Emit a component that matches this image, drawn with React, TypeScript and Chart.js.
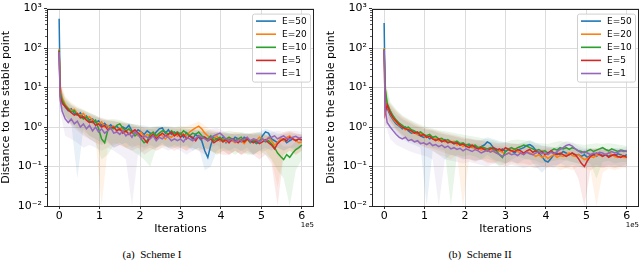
import React, { useEffect, useRef } from 'react';
import { Chart, registerables } from 'chart.js';

Chart.register(...registerables);

// ---------- shared axes data ----------
const ITERS = [
  0, 2500, 7500, 15000, 22500, 30000, 37500, 45000, 52500, 60000,
  67500, 75000, 82500, 90000, 97500, 105000, 112500, 120000, 127500, 135000,
  142500, 150000, 157500, 165000, 172500, 180000, 187500, 195000, 202500, 210000,
  217500, 225000, 232500, 240000, 247500, 255000, 262500, 270000, 277500, 285000,
  292500, 300000, 307500, 315000, 322500, 330000, 337500, 345000, 352500, 360000,
  367500, 375000, 382500, 390000, 397500, 405000, 412500, 420000, 427500, 435000,
  442500, 450000, 457500, 465000, 472500, 480000, 487500, 495000, 502500, 510000,
  517500, 525000, 532500, 540000, 547500, 555000, 562500, 570000, 577500, 585000,
  592500, 600000,
];
const BAND_ITERS = [
  0, 2500, 15000, 30000, 45000, 60000, 75000, 90000, 105000, 120000,
  135000, 150000, 165000, 180000, 195000, 210000, 225000, 240000, 255000, 270000,
  285000, 300000, 315000, 330000, 345000, 360000, 375000, 390000, 405000, 420000,
  435000, 450000, 465000, 480000, 495000, 510000, 525000, 540000, 555000, 570000,
  585000, 600000,
];
const X_TICKS = [0, 100000, 200000, 300000, 400000, 500000, 600000];
const Y_TICKS = [0.01, 0.1, 1, 10, 100, 1000];
const SERIES_LABELS = ['E=50', 'E=20', 'E=10', 'E=5', 'E=1'];
const SERIES_COLORS = ['#1f77b4', '#ff7f0e', '#2ca02c', '#d62728', '#9467bd'];
const SERIES_FILLS = [
  'rgba(31,119,180,0.10)', 'rgba(255,127,14,0.10)', 'rgba(44,160,44,0.10)',
  'rgba(214,39,40,0.10)', 'rgba(148,103,189,0.10)',
];

// ---------- Scheme I ----------
const S1_E50 = [
  550, 9, 4.5, 3.2, 2.6, 2.9, 2.2, 2.0, 2.3, 1.7,
  1.9, 1.5, 1.6, 1.3, 1.45, 1.1, 1.25, 1.0, 1.15, 0.95,
  1.05, 0.85, 1.0, 0.9, 1.1, 0.8, 0.7, 0.85, 0.75, 0.65,
  0.8, 0.7, 0.6, 0.75, 0.9, 0.95, 0.7, 0.85, 0.65, 0.75,
  0.6, 0.7, 0.55, 0.72, 0.6, 0.5, 0.65, 0.55, 0.45, 0.25,
  0.17, 0.35, 0.55, 0.5, 0.45, 0.55, 0.4, 0.5, 0.45, 0.55,
  0.5, 0.42, 0.55, 0.5, 0.4, 0.45, 0.38, 0.42, 0.6, 0.75,
  0.7, 0.5, 0.45, 0.4, 0.48, 0.5, 0.4, 0.45, 0.5, 0.45,
  0.5, 0.48,
];
const S1_E20 = [
  95, 11, 5.5, 3.8, 3.0, 2.6, 2.8, 2.2, 2.0, 2.2,
  1.7, 1.8, 1.5, 1.4, 1.2, 1.35, 1.0, 1.1, 0.9, 1.05,
  0.8, 0.95, 0.85, 0.75, 0.9, 0.7, 0.8, 0.6, 0.75, 0.55,
  0.65, 0.6, 0.7, 0.55, 0.65, 0.6, 0.5, 0.6, 0.55, 0.65,
  0.6, 0.7, 0.65, 0.6, 0.75, 0.85, 0.95, 1.05, 0.9, 0.7,
  0.6, 0.55, 0.5, 0.6, 0.45, 0.5, 0.42, 0.55, 0.45, 0.4,
  0.5, 0.45, 0.38, 0.48, 0.42, 0.5, 0.45, 0.55, 0.5, 0.45,
  0.55, 0.45, 0.35, 0.4, 0.5, 0.45, 0.55, 0.6, 0.5, 0.45,
  0.4, 0.42,
];
const S1_E10 = [
  90, 8, 4.8, 3.5, 2.9, 2.4, 2.6, 2.0, 1.9, 1.6,
  1.8, 1.4, 1.3, 1.5, 0.9, 0.5, 0.4, 0.8, 1.0, 0.9,
  1.1, 1.2, 0.95, 0.8, 0.9, 0.75, 0.6, 0.7, 0.5, 0.4,
  0.45, 0.65, 0.75, 0.6, 0.7, 0.8, 0.75, 0.65, 0.8, 0.7,
  0.75, 0.65, 0.8, 0.7, 0.6, 0.7, 0.65, 0.75, 0.6, 0.55,
  0.5, 0.6, 0.45, 0.5, 0.55, 0.45, 0.5, 0.55, 0.5, 0.45,
  0.5, 0.55, 0.45, 0.5, 0.42, 0.48, 0.4, 0.45, 0.5, 0.42,
  0.45, 0.38, 0.3, 0.22, 0.18, 0.15, 0.2, 0.17, 0.22, 0.27,
  0.3, 0.35,
];
const S1_E5 = [
  85, 6, 4.0, 3.3, 2.7, 2.3, 2.0, 2.2, 1.7, 1.8,
  1.5, 1.3, 1.4, 1.1, 1.2, 1.0, 1.1, 0.85, 0.95, 1.0,
  0.8, 0.9, 0.7, 0.8, 0.65, 0.75, 0.85, 0.7, 0.6, 0.5,
  0.4, 0.55, 0.65, 0.5, 0.6, 0.7, 0.6, 0.65, 0.75, 0.6,
  0.7, 0.55, 0.65, 0.5, 0.6, 0.55, 0.45, 0.6, 0.5, 0.55,
  0.45, 0.5, 0.4, 0.45, 0.5, 0.42, 0.48, 0.4, 0.5, 0.45,
  0.4, 0.48, 0.42, 0.5, 0.45, 0.4, 0.45, 0.38, 0.42, 0.48,
  0.4, 0.35, 0.28, 0.38, 0.45, 0.5, 0.45, 0.55, 0.5, 0.45,
  0.5, 0.47,
];
const S1_E1 = [
  80, 5, 2.5, 1.6, 1.3, 1.6, 1.2, 1.4, 1.0, 1.2,
  0.9, 1.1, 0.8, 1.0, 0.75, 0.9, 0.7, 0.8, 0.95, 0.7,
  0.75, 0.65, 0.8, 0.6, 0.7, 0.55, 0.75, 0.65, 0.5, 0.6,
  0.55, 0.5, 0.6, 0.45, 0.55, 0.5, 0.6, 0.55, 0.45, 0.5,
  0.45, 0.5, 0.42, 0.55, 0.5, 0.45, 0.52, 0.6, 0.55, 0.5,
  0.45, 0.55, 0.6, 0.65, 0.7, 0.6, 0.5, 0.45, 0.5, 0.42,
  0.48, 0.45, 0.5, 0.55, 0.45, 0.5, 0.48, 0.42, 0.5, 0.45,
  0.52, 0.55, 0.6, 0.5, 0.55, 0.6, 0.52, 0.5, 0.55, 0.58,
  0.52, 0.55,
];
const S1_E50_LO = [300, 4, 1.8, 1.2, 0.05, 0.9, 0.6, 0.5, 0.4, 0.45, 0.3, 0.35, 0.4, 0.3, 0.35, 0.3, 0.35, 0.3, 0.4, 0.3, 0.35, 0.3, 0.35, 0.25, 0.3, 0.08, 0.1, 0.25, 0.3, 0.25, 0.3, 0.25, 0.3, 0.2, 0.25, 0.3, 0.25, 0.3, 0.25, 0.3, 0.25, 0.3];
const S1_E50_HI = [700, 12, 5.0, 3.6, 3.0, 2.6, 2.2, 1.9, 1.7, 1.5, 1.4, 1.3, 1.25, 1.2, 1.15, 1.1, 1.0, 1.05, 1.0, 0.95, 0.9, 0.88, 0.85, 0.85, 0.8, 0.75, 0.7, 0.75, 0.7, 0.7, 0.65, 0.7, 0.65, 0.7, 0.75, 0.9, 0.8, 0.7, 0.65, 0.7, 0.65, 0.65];
const S1_E20_LO = [50, 5, 2.0, 1.3, 1.0, 0.8, 0.6, 0.5, 0.01, 0.3, 0.4, 0.35, 0.3, 0.35, 0.3, 0.28, 0.3, 0.25, 0.3, 0.35, 0.3, 0.3, 0.25, 0.35, 0.5, 0.3, 0.25, 0.2, 0.25, 0.2, 0.25, 0.2, 0.25, 0.22, 0.2, 0.25, 0.15, 0.03, 0.2, 0.25, 0.2, 0.25];
const S1_E20_HI = [150, 16, 6.0, 4.2, 3.3, 2.8, 2.3, 2.0, 1.7, 1.6, 1.5, 1.4, 1.3, 1.2, 1.1, 1.0, 0.95, 1.0, 0.95, 0.9, 0.95, 1.0, 1.05, 1.2, 1.4, 1.1, 0.85, 0.8, 0.75, 0.7, 0.75, 0.7, 0.65, 0.75, 0.7, 0.65, 0.7, 0.65, 0.75, 0.8, 0.7, 0.65];
const S1_E10_LO = [45, 4, 1.9, 1.2, 0.9, 0.7, 0.5, 0.4, 0.15, 0.2, 0.35, 0.4, 0.3, 0.25, 0.2, 0.15, 0.1, 0.3, 0.35, 0.3, 0.3, 0.35, 0.3, 0.3, 0.25, 0.3, 0.25, 0.2, 0.25, 0.25, 0.2, 0.25, 0.2, 0.2, 0.25, 0.2, 0.15, 0.08, 0.05, 0.01, 0.08, 0.15];
const S1_E10_HI = [140, 12, 5.5, 3.9, 3.1, 2.7, 2.3, 2.0, 1.5, 1.5, 1.6, 1.5, 1.3, 1.2, 1.1, 0.95, 0.95, 1.0, 1.1, 1.05, 1.0, 1.05, 1.0, 1.0, 0.95, 0.9, 0.8, 0.75, 0.75, 0.8, 0.75, 0.75, 0.7, 0.7, 0.75, 0.65, 0.55, 0.45, 0.32, 0.32, 0.42, 0.5];
const S1_E5_LO = [40, 3, 1.6, 1.1, 0.8, 0.6, 0.5, 0.4, 0.35, 0.4, 0.3, 0.35, 0.3, 0.25, 0.3, 0.2, 0.25, 0.3, 0.35, 0.3, 0.25, 0.3, 0.25, 0.3, 0.25, 0.2, 0.25, 0.22, 0.2, 0.2, 0.25, 0.2, 0.22, 0.2, 0.15, 0.2, 0.12, 0.01, 0.2, 0.25, 0.2, 0.25];
const S1_E5_HI = [130, 10, 4.6, 3.4, 2.8, 2.4, 2.0, 1.8, 1.6, 1.4, 1.4, 1.3, 1.2, 1.1, 1.0, 0.95, 0.9, 0.95, 1.0, 1.0, 0.95, 0.95, 0.9, 0.85, 0.85, 0.8, 0.75, 0.7, 0.7, 0.65, 0.7, 0.65, 0.68, 0.65, 0.65, 0.6, 0.55, 0.55, 0.7, 0.75, 0.7, 0.65];
const S1_E1_LO = [40, 2.5, 0.6, 0.5, 0.4, 0.3, 0.35, 0.3, 0.25, 0.3, 0.25, 0.2, 0.15, 0.01, 0.2, 0.25, 0.3, 0.25, 0.3, 0.25, 0.3, 0.25, 0.2, 0.25, 0.3, 0.25, 0.3, 0.35, 0.25, 0.2, 0.25, 0.2, 0.25, 0.2, 0.25, 0.25, 0.3, 0.3, 0.25, 0.3, 0.3, 0.3];
const S1_E1_HI = [120, 8, 3.2, 2.6, 2.2, 1.9, 1.7, 1.5, 1.3, 1.2, 1.1, 1.05, 1.0, 0.95, 0.9, 0.85, 0.9, 0.85, 0.8, 0.8, 0.75, 0.75, 0.7, 0.7, 0.75, 0.75, 0.9, 0.95, 0.8, 0.7, 0.65, 0.7, 0.7, 0.65, 0.7, 0.65, 0.75, 0.8, 0.75, 0.8, 0.8, 0.75];

// ---------- Scheme II ----------
const S2_E50 = [
  430, 7, 3.0, 2.0, 1.5, 1.2, 1.05, 0.9, 1.0, 0.8,
  0.7, 0.75, 0.65, 0.6, 0.55, 0.6, 0.5, 0.55, 0.48, 0.5,
  0.45, 0.48, 0.4, 0.42, 0.38, 0.4, 0.35, 0.38, 0.32, 0.35,
  0.3, 0.33, 0.28, 0.32, 0.35, 0.42, 0.38, 0.3, 0.28, 0.25,
  0.28, 0.24, 0.27, 0.25, 0.22, 0.26, 0.28, 0.3, 0.34, 0.36,
  0.32, 0.26, 0.22, 0.18, 0.14, 0.13, 0.16, 0.2, 0.22, 0.2,
  0.24, 0.22, 0.2, 0.22, 0.19, 0.2, 0.18, 0.2, 0.17, 0.19,
  0.2, 0.18, 0.21, 0.19, 0.2, 0.18, 0.2, 0.19, 0.21, 0.2,
  0.18, 0.2,
];
const S2_E20 = [
  100, 9, 3.4, 2.2, 1.6, 1.3, 1.1, 1.0, 0.85, 0.9,
  0.75, 0.7, 0.65, 0.7, 0.6, 0.55, 0.6, 0.5, 0.52, 0.45,
  0.5, 0.42, 0.45, 0.4, 0.43, 0.35, 0.38, 0.32, 0.36, 0.3,
  0.32, 0.28, 0.3, 0.26, 0.28, 0.25, 0.27, 0.24, 0.22, 0.25,
  0.23, 0.2, 0.22, 0.25, 0.28, 0.24, 0.22, 0.2, 0.24, 0.22,
  0.2, 0.18, 0.2, 0.17, 0.19, 0.16, 0.18, 0.2, 0.17, 0.19,
  0.18, 0.2, 0.22, 0.19, 0.18, 0.2, 0.17, 0.15, 0.16, 0.18,
  0.17, 0.19, 0.2, 0.18, 0.2, 0.22, 0.2, 0.18, 0.17, 0.19,
  0.17, 0.17,
];
const S2_E10 = [
  95, 10, 4.0, 2.6, 1.9, 1.5, 1.25, 1.1, 0.95, 1.0,
  0.85, 0.8, 0.7, 0.75, 0.65, 0.6, 0.65, 0.55, 0.58, 0.5,
  0.52, 0.45, 0.48, 0.42, 0.4, 0.44, 0.38, 0.4, 0.35, 0.37,
  0.33, 0.35, 0.3, 0.32, 0.3, 0.28, 0.3, 0.27, 0.25, 0.2,
  0.17, 0.24, 0.28, 0.3, 0.27, 0.3, 0.32, 0.35, 0.33, 0.3,
  0.28, 0.25, 0.27, 0.24, 0.25, 0.22, 0.25, 0.28, 0.26, 0.3,
  0.28, 0.3, 0.27, 0.3, 0.28, 0.25, 0.24, 0.22, 0.25, 0.27,
  0.24, 0.26, 0.28, 0.3, 0.27, 0.25, 0.28, 0.26, 0.24, 0.26,
  0.25, 0.24,
];
const S2_E5 = [
  90, 2.2, 3.6, 2.3, 1.7, 1.4, 1.15, 1.0, 0.9, 0.85,
  0.8, 0.7, 0.75, 0.6, 0.65, 0.55, 0.58, 0.5, 0.45, 0.5,
  0.42, 0.46, 0.4, 0.43, 0.38, 0.4, 0.35, 0.37, 0.33, 0.3,
  0.35, 0.3, 0.28, 0.3, 0.27, 0.25, 0.28, 0.3, 0.26, 0.28,
  0.25, 0.3, 0.27, 0.25, 0.24, 0.27, 0.25, 0.22, 0.25, 0.27,
  0.23, 0.25, 0.22, 0.24, 0.2, 0.22, 0.25, 0.22, 0.2, 0.22,
  0.2, 0.18, 0.2, 0.22, 0.2, 0.16, 0.12, 0.1, 0.14, 0.18,
  0.2, 0.22, 0.2, 0.18, 0.2, 0.17, 0.19, 0.2, 0.18, 0.17,
  0.19, 0.17,
];
const S2_E1 = [
  90, 3, 1.3, 1.0, 0.8, 0.65, 0.55, 0.5, 0.55, 0.45,
  0.48, 0.42, 0.45, 0.38, 0.4, 0.36, 0.4, 0.34, 0.36, 0.32,
  0.35, 0.3, 0.33, 0.28, 0.3, 0.27, 0.29, 0.25, 0.28, 0.26,
  0.24, 0.27, 0.25, 0.22, 0.24, 0.26, 0.23, 0.25, 0.22, 0.2,
  0.18, 0.2, 0.22, 0.2, 0.21, 0.19, 0.22, 0.2, 0.23, 0.21,
  0.2, 0.22, 0.24, 0.21, 0.22, 0.2, 0.23, 0.21, 0.24, 0.27,
  0.3, 0.34, 0.36, 0.33, 0.28, 0.25, 0.22, 0.24, 0.22, 0.2,
  0.22, 0.21, 0.23, 0.22, 0.2, 0.22, 0.24, 0.22, 0.23, 0.25,
  0.24, 0.25,
];
const S2_E50_LO = [250, 3.5, 1.0, 0.7, 0.5, 0.4, 0.35, 0.3, 0.01, 0.25, 0.2, 0.15, 0.2, 0.18, 0.15, 0.16, 0.14, 0.15, 0.2, 0.15, 0.13, 0.12, 0.14, 0.12, 0.15, 0.15, 0.1, 0.07, 0.1, 0.1, 0.12, 0.1, 0.11, 0.1, 0.09, 0.1, 0.1, 0.1, 0.11, 0.1, 0.1, 0.1];
const S2_E50_HI = [500, 11, 3.2, 2.1, 1.6, 1.3, 1.1, 0.95, 0.85, 0.8, 0.7, 0.65, 0.6, 0.55, 0.5, 0.5, 0.46, 0.46, 0.55, 0.5, 0.44, 0.41, 0.38, 0.37, 0.41, 0.47, 0.4, 0.34, 0.32, 0.3, 0.31, 0.29, 0.3, 0.29, 0.27, 0.29, 0.27, 0.28, 0.27, 0.29, 0.27, 0.27];
const S2_E20_LO = [50, 4, 1.2, 0.8, 0.55, 0.45, 0.4, 0.35, 0.3, 0.25, 0.2, 0.18, 0.15, 0.2, 0.01, 0.15, 0.13, 0.15, 0.12, 0.13, 0.12, 0.1, 0.12, 0.11, 0.1, 0.1, 0.09, 0.1, 0.09, 0.1, 0.08, 0.09, 0.08, 0.1, 0.09, 0.08, 0.01, 0.07, 0.09, 0.08, 0.09, 0.09];
const S2_E20_HI = [150, 14, 3.7, 2.4, 1.7, 1.4, 1.15, 1.0, 0.88, 0.82, 0.74, 0.66, 0.62, 0.57, 0.53, 0.5, 0.46, 0.44, 0.41, 0.38, 0.37, 0.35, 0.37, 0.38, 0.35, 0.32, 0.29, 0.27, 0.29, 0.27, 0.27, 0.29, 0.27, 0.25, 0.25, 0.27, 0.29, 0.27, 0.27, 0.25, 0.25, 0.24];
const S2_E10_LO = [50, 5, 1.5, 0.9, 0.65, 0.5, 0.45, 0.4, 0.35, 0.3, 0.28, 0.25, 0.01, 0.2, 0.18, 0.2, 0.18, 0.15, 0.16, 0.14, 0.1, 0.12, 0.15, 0.18, 0.16, 0.15, 0.14, 0.12, 0.13, 0.14, 0.15, 0.14, 0.13, 0.12, 0.13, 0.12, 0.05, 0.13, 0.14, 0.12, 0.13, 0.13];
const S2_E10_HI = [140, 15, 4.4, 2.8, 2.0, 1.6, 1.35, 1.15, 1.0, 0.92, 0.83, 0.78, 0.74, 0.69, 0.64, 0.6, 0.57, 0.53, 0.5, 0.46, 0.41, 0.41, 0.46, 0.48, 0.46, 0.44, 0.39, 0.39, 0.37, 0.41, 0.44, 0.41, 0.39, 0.37, 0.35, 0.37, 0.39, 0.37, 0.39, 0.37, 0.35, 0.33];
const S2_E5_LO = [45, 1.0, 1.4, 0.85, 0.6, 0.5, 0.4, 0.35, 0.3, 0.28, 0.25, 0.22, 0.2, 0.18, 0.16, 0.15, 0.14, 0.15, 0.13, 0.12, 0.14, 0.12, 0.13, 0.12, 0.12, 0.11, 0.12, 0.1, 0.1, 0.11, 0.1, 0.09, 0.1, 0.05, 0.01, 0.08, 0.1, 0.09, 0.1, 0.09, 0.1, 0.1];
const S2_E5_HI = [140, 4.5, 3.9, 2.6, 1.85, 1.5, 1.25, 1.05, 0.92, 0.87, 0.78, 0.72, 0.66, 0.61, 0.55, 0.52, 0.48, 0.46, 0.44, 0.41, 0.39, 0.4, 0.39, 0.37, 0.39, 0.37, 0.35, 0.33, 0.32, 0.31, 0.3, 0.31, 0.29, 0.27, 0.25, 0.27, 0.29, 0.27, 0.27, 0.26, 0.27, 0.25];
const S2_E1_LO = [40, 1.2, 0.5, 0.35, 0.3, 0.25, 0.22, 0.2, 0.18, 0.15, 0.01, 0.15, 0.14, 0.13, 0.12, 0.13, 0.12, 0.11, 0.1, 0.12, 0.11, 0.1, 0.11, 0.1, 0.09, 0.1, 0.09, 0.1, 0.1, 0.09, 0.12, 0.15, 0.13, 0.12, 0.11, 0.1, 0.11, 0.1, 0.1, 0.11, 0.1, 0.12];
const S2_E1_HI = [130, 5.5, 2.0, 1.45, 1.1, 0.92, 0.78, 0.69, 0.64, 0.6, 0.55, 0.52, 0.48, 0.46, 0.42, 0.4, 0.39, 0.37, 0.35, 0.34, 0.33, 0.31, 0.3, 0.29, 0.3, 0.29, 0.28, 0.28, 0.29, 0.28, 0.37, 0.44, 0.41, 0.33, 0.3, 0.29, 0.28, 0.29, 0.28, 0.29, 0.3, 0.31];

const SCHEME1 = {
  means: [S1_E50, S1_E20, S1_E10, S1_E5, S1_E1],
  los: [S1_E50_LO, S1_E20_LO, S1_E10_LO, S1_E5_LO, S1_E1_LO],
  his: [S1_E50_HI, S1_E20_HI, S1_E10_HI, S1_E5_HI, S1_E1_HI],
};
const SCHEME2 = {
  means: [S2_E50, S2_E20, S2_E10, S2_E5, S2_E1],
  los: [S2_E50_LO, S2_E20_LO, S2_E10_LO, S2_E5_LO, S2_E1_LO],
  his: [S2_E50_HI, S2_E20_HI, S2_E10_HI, S2_E5_HI, S2_E1_HI],
};

const SUP: Record<string, string> = { '-': '\u207B', '0': '\u2070', '1': '\u00B9', '2': '\u00B2', '3': '\u00B3' };
const FONT = 'DejaVu Sans';

function buildDatasets(scheme: any) {
  const ds: any[] = [];
  scheme.means.forEach((_: number[], i: number) => {
    ds.push({
      data: BAND_ITERS.map((x, j) => ({ x, y: scheme.his[i][j] })),
      borderColor: 'rgba(0,0,0,0)', borderWidth: 0, pointRadius: 0, fill: false, order: 40 + i * 2,
    });
    ds.push({
      data: BAND_ITERS.map((x, j) => ({ x, y: scheme.los[i][j] })),
      borderColor: 'rgba(0,0,0,0)', borderWidth: 0, pointRadius: 0,
      fill: '-1', backgroundColor: SERIES_FILLS[i], order: 40 + i * 2 + 1,
    });
  });
  scheme.means.forEach((m: number[], i: number) => {
    ds.push({
      label: SERIES_LABELS[i],
      data: ITERS.map((x, j) => ({ x, y: m[j] })),
      borderColor: SERIES_COLORS[i], borderWidth: 1.5, pointRadius: 0, fill: false,
      tension: 0, order: 10 - i,
    });
  });
  return ds;
}

const decorPlugin = {
  id: 'decor',
  afterDraw(chart: any) {
    const { ctx, chartArea: a } = chart;
    const ys = chart.scales.y;
    ctx.save();
    ctx.strokeStyle = '#333';
    ctx.lineWidth = 0.8;
    for (let k = -2; k < 3; k++) {
      for (let m = 2; m < 10; m++) {
        const py = Math.round(ys.getPixelForValue(m * Math.pow(10, k))) + 0.5;
        ctx.beginPath();
        ctx.moveTo(a.left - 2, py);
        ctx.lineTo(a.left, py);
        ctx.stroke();
      }
    }
    ctx.strokeStyle = '#222';
    ctx.lineWidth = 1;
    ctx.strokeRect(Math.round(a.left) + 0.5, Math.round(a.top) + 0.5, Math.round(a.right - a.left) - 1, Math.round(a.bottom - a.top));
    ctx.fillStyle = '#000';
    ctx.font = `7px "${FONT}"`;
    ctx.textAlign = 'right';
    ctx.textBaseline = 'middle';
    ctx.fillText('1e5', a.right, a.bottom + 19);
    const bw = 58, bh = 68;
    const bx = a.right - 4 - bw, by = a.top + 5;
    ctx.fillStyle = 'rgba(255,255,255,0.85)';
    ctx.strokeStyle = '#d0d0d0';
    ctx.lineWidth = 1;
    ctx.beginPath();
    if (ctx.roundRect) ctx.roundRect(bx + 0.5, by + 0.5, bw, bh, 2); else ctx.rect(bx + 0.5, by + 0.5, bw, bh);
    ctx.fill();
    ctx.stroke();
    ctx.font = `9px "${FONT}"`;
    ctx.textAlign = 'left';
    SERIES_LABELS.forEach((lab, i) => {
      const ry = by + 7.5 + i * 13.1;
      ctx.strokeStyle = SERIES_COLORS[i];
      ctx.lineWidth = 1.6;
      ctx.beginPath();
      ctx.moveTo(bx + 4, ry);
      ctx.lineTo(bx + 24, ry);
      ctx.stroke();
      ctx.fillStyle = '#000';
      ctx.fillText(lab, bx + 30, ry + 0.5);
    });
    ctx.restore();
  },
};

function Panel({ scheme, left, yWidth, padRight, titlePad }: any) {
  const ref = useRef<HTMLCanvasElement>(null);
  useEffect(() => {
    const chart = new Chart(ref.current as HTMLCanvasElement, {
      type: 'line',
      data: { datasets: buildDatasets(scheme) },
      options: {
        responsive: false,
        animation: false,
        devicePixelRatio: 1,
        layout: { padding: { top: 7, right: padRight, left: 0, bottom: 0 } },
        plugins: { legend: { display: false }, tooltip: { enabled: false } },
        scales: {
          x: {
            type: 'linear', min: -30000, max: 630000,
            afterBuildTicks: (s: any) => { s.ticks = X_TICKS.map((v) => ({ value: v })); },
            afterFit: (s: any) => { s.height = 30; },
            ticks: {
              autoSkip: false, maxRotation: 0, padding: 1, color: '#000',
              font: { family: FONT, size: 11 },
              callback: (v: any) => String(Math.round(Number(v) / 100000)),
            },
            grid: { color: '#dcdcdc', lineWidth: 1, tickLength: 3, tickColor: '#333' },
            border: { display: false },
            title: { display: true, text: 'Iterations', color: '#000', font: { family: FONT, size: 11 }, padding: { top: 0, bottom: 0 } },
          },
          y: {
            type: 'logarithmic', min: 0.01, max: 1000,
            afterBuildTicks: (s: any) => { s.ticks = Y_TICKS.map((v) => ({ value: v })); },
            afterFit: (s: any) => { s.width = yWidth; },
            ticks: {
              autoSkip: false, padding: 2, color: '#000',
              font: { family: FONT, size: 11 },
              callback: (v: any) => {
                const e = String(Math.round(Math.log10(Number(v))));
                return '10' + e.split('').map((c) => SUP[c]).join('');
              },
            },
            grid: { color: '#dcdcdc', lineWidth: 1, tickLength: 3, tickColor: '#333' },
            border: { display: false },
            title: { display: true, text: 'Distance to the stable point', color: '#000', font: { family: FONT, size: 11 }, padding: { top: titlePad, bottom: 0 } },
          },
        },
      } as any,
      plugins: [decorPlugin],
    });
    return () => chart.destroy();
  }, []);
  return (
    <canvas ref={ref} width={320} height={236}
      style={{ position: 'absolute', left, top: 0, width: 320, height: 236 }} />
  );
}

const captionStyle: React.CSSProperties = {
  position: 'absolute', top: 247, height: 14, lineHeight: '14px',
  fontFamily: '"Liberation Serif", serif', fontSize: 11, color: '#000',
  whiteSpace: 'pre', transform: 'translateX(-50%)',
};

export default function App() {
  return (
    <div style={{ position: 'absolute', left: 0, top: 0, width: 640, height: 261, background: '#fff', overflow: 'hidden' }}>
      <Panel scheme={SCHEME1} left={0} yWidth={47} padRight={6} titlePad={0} />
      <Panel scheme={SCHEME2} left={320} yWidth={52} padRight={1} titlePad={5} />
      <div style={{ ...captionStyle, left: 152 }}>{'(a)  Scheme I'}</div>
      <div style={{ ...captionStyle, left: 480 }}>{'(b)  Scheme II'}</div>
    </div>
  );
}
